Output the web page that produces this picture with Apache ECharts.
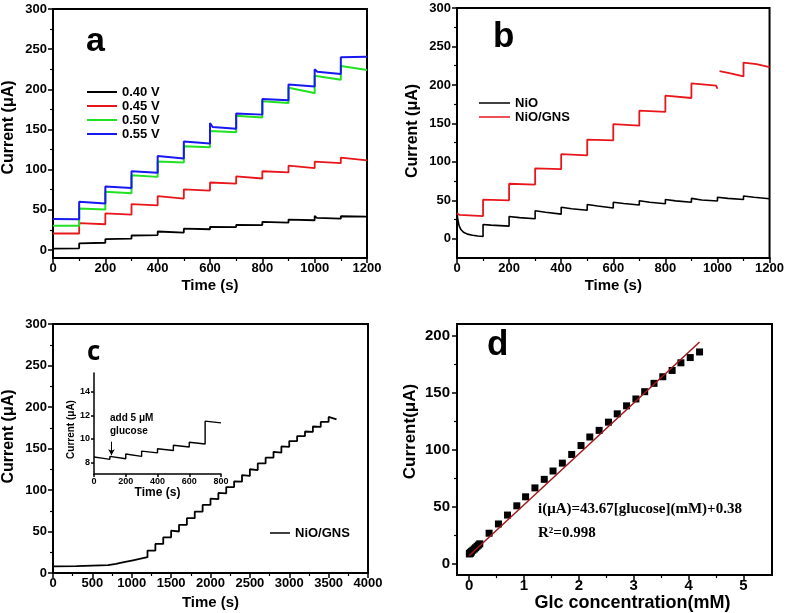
<!DOCTYPE html>
<html><head><meta charset="utf-8">
<script src="https://cdn.jsdelivr.net/npm/echarts@6/dist/echarts.min.js"></script>
<style>html,body{margin:0;padding:0;background:#fff}#c{width:787px;height:613px}</style>
</head><body><div id="c"></div>
<script>
// ---------- Panel a: current vs time at different potentials ----------
const a040 = [[0,1.7],[100,2],[100,8.3],[200,9],[200,13.5],[300,14],[300,18],[400,18.5],[400,23],[404,23.5],[500,21.7],[500,26.5],[600,25.8],[600,28.8],[700,28.5],[700,31.2],[800,31],[800,35],[900,34],[900,37.8],[1000,37],[1000,42.5],[1008,40],[1100,39],[1100,42],[1200,41.5]];
const a045 = [[0,20.5],[100,20.5],[100,33.5],[200,32],[200,45.5],[300,44],[300,57],[400,55.5],[400,67],[405,65.5],[500,64],[500,75.5],[600,74],[600,84],[700,82.5],[700,91.5],[800,89],[800,98],[900,96.5],[900,105],[1000,102],[1000,110],[1100,108],[1100,115],[1200,111.5]];
const a050 = [[0,30],[100,30],[100,51.5],[200,50.5],[200,72.5],[300,70.5],[300,93],[400,91],[400,110],[500,109],[500,129],[600,128],[600,148],[700,146.5],[700,167],[800,165],[800,185],[900,183],[900,202],[990,196],[1000,195],[1000,217],[1100,212],[1100,229],[1200,224]];
const a055 = [[0,38.5],[100,38.3],[100,60],[200,58],[200,79],[300,77],[300,98],[400,96],[400,117],[500,114],[500,135],[600,132.5],[600,158],[610,153],[700,151],[700,170],[800,168.5],[800,188],[900,186.5],[900,206],[1000,203.5],[1000,225],[1010,222],[1100,219],[1100,240],[1200,240.5]];
const aNames = ['0.40 V','0.45 V','0.50 V','0.55 V'];
const aYTicks = [0,50,100,150,200,250,300];
const aYMinor = [25,75,125,175,225,275];
const aXTicks = [0,200,400,600,800,1000,1200];
const aXMinor = [100,300,500,700,900,1100];

// ---------- Panel b: NiO vs NiO/GNS ----------
const bNiO = [[0,33],[3,25],[8,17],[15,12],[25,8.5],[40,6],[60,4.5],[80,3.5],[100,3],[100,18.5],[130,17.8],[200,16.5],[200,29],[240,27.5],[300,26],[300,36.5],[340,34.5],[400,32],[400,41],[440,39],[500,37],[500,44.5],[540,42.5],[600,40],[600,47.5],[640,45.8],[700,44],[700,49.5],[740,47.5],[800,45.5],[800,51],[840,49.3],[900,47.5],[900,52.5],[940,50.5],[1000,49],[1000,54],[1040,52.5],[1100,51],[1100,55.5],[1140,54],[1200,52]];
const bGNS = [[0,33],[10,31],[100,29.5],[100,50.8],[200,50],[200,71.5],[300,70.5],[300,91.5],[400,90.5],[400,110],[500,108.5],[500,129],[600,128],[600,149],[700,147],[700,166.5],[800,165],[800,186],[900,183],[900,202],[995,199],[1000,195],[1004,null],[1008,218],[1050,215],[1100,211],[1100,229],[1150,227],[1200,223]];
const bNames = ['NiO','NiO/GNS'];

// ---------- Panel c: long amperometric response + inset ----------
const cMain = [[0,8],[300,8.4],[700,9.5],[700,11],[800,11],[800,13],[900,13],[900,15],[1000,15],[1000,17],[1100,17],[1100,18.5],[1200,19],[1200,27],[1300,27],[1300,35],[1400,35],[1400,43],[1500,43],[1500,51],[1600,50],[1600,58],[1700,58],[1700,66],[1800,66],[1800,74],[1900,74],[1900,82],[2000,82],[2000,89.5],[2100,89],[2100,96.5],[2200,96],[2200,103.5],[2300,103.5],[2300,110.5],[2400,110],[2400,118],[2500,117],[2500,125],[2600,124],[2600,132],[2700,132],[2700,139],[2800,139],[2800,146],[2900,145],[2900,152.5],[3000,152],[3000,159],[3100,159],[3100,165],[3200,165],[3200,170.5],[3300,170],[3300,176.5],[3400,176],[3400,182],[3500,182],[3500,188],[3520,186],[3600,185]];
const cInset = [[0,8.45],[50,8.35],[100,8.25],[100,8.5],[200,8.3],[200,8.7],[300,8.5],[300,8.95],[400,8.8],[400,9.15],[500,9.0],[500,9.45],[600,9.3],[600,9.7],[700,9.55],[700,11.5],[800,11.35]];
const cYTicks = [0,50,100,150,200,250,300];
const cYMinor = [25,75,125,175,225,275];
const cXTicks = [0,500,1000,1500,2000,2500,3000,3500,4000];
const cXMinor = [250,750,1250,1750,2250,2750,3250,3750];
const insetXTicks = [0,200,400,600,800];
const insetYTicks = [8,10,12,14];
const arrowAt = [[110,9.75],[110,8.6]];

// ---------- Panel d: calibration ----------
const dConc = [0.005,0.01,0.015,0.02,0.025,0.03,0.035,0.045,0.07,0.095,0.12,0.145,0.17,0.195,0.365,0.535,0.70,0.87,1.03,1.20,1.37,1.53,1.70,1.87,2.04,2.20,2.37,2.54,2.70,2.87,3.04,3.20,3.37,3.53,3.70,3.86,4.03,4.20];
const dCurr = [8.6,8.8,9.0,9.2,9.5,9.8,10.0,10.8,11.8,12.9,14.0,15.2,16.3,17.4,26.7,34.8,42.6,50.7,58.6,66.4,73.9,81.2,88.1,95.7,103.5,111,116.8,124,131.3,138.3,144.3,150.7,158,163.8,169.3,176,180.6,185.5];
const dFitX = [0.0, 4.2];
const dFitY = [7.0, 194.2];
const dYTicks = [0,50,100,150,200];
const dYMinor = [25,75,125,175];
const dXTicks = [0,1,2,3,4,5];
const dXMinor = [0.5,1.5,2.5,3.5,4.5];

const FONT = '"Liberation Sans", Arial, sans-serif';
const K = '#000';
const RED = '#e8161b', GREEN = '#22e022', BLUE = '#1818f0';

function axisPair(dim, gridIndex, min, max, ticks, minors, o) {
  const pos = dim === 'x' ? 'bottom' : 'left';
  const main = {
    type: 'value', gridIndex, min, max, position: pos,
    axisLine: {show: true, onZero: false, lineStyle: {color: K, width: o.lw || 2}},
    axisTick: {show: true, inside: false, length: o.tl || 5, customValues: ticks, lineStyle: {color: K, width: 1.5}},
    axisLabel: {show: true, customValues: ticks, margin: o.margin, color: K, fontSize: o.fs, fontWeight: 700, fontFamily: FONT,
      formatter: v => String(v)},
    splitLine: {show: false},
    name: o.name, nameLocation: 'middle', nameGap: o.gap,
    nameTextStyle: {color: K, fontSize: o.nfs, fontWeight: 'bold', fontFamily: FONT, padding: o.npad || 0}
  };
  const arr = [main];
  if (minors) {
    arr.push({
      type: 'value', gridIndex, min, max, position: pos,
      axisLine: {show: false, onZero: false},
      axisTick: {show: true, inside: false, length: 3, customValues: minors, lineStyle: {color: K, width: 1.2}},
      axisLabel: {show: false}, splitLine: {show: false}
    });
  }
  return arr;
}

const xAxes = [].concat(
  axisPair('x', 0, 0, 1200, aXTicks, aXMinor, {margin: 4, fs: 13, name: 'Time (s)', gap: 20, nfs: 15}),
  axisPair('x', 1, 0, 1200, aXTicks, aXMinor, {margin: 4, fs: 13, name: 'Time (s)', gap: 20, nfs: 15}),
  axisPair('x', 2, 0, 4000, cXTicks, cXMinor, {margin: 4, fs: 13, name: 'Time (s)', gap: 22, nfs: 15}),
  axisPair('x', 3, 0, 800, insetXTicks, null, {margin: 3, fs: 9, tl: 3, lw: 1.5, name: 'Time (s)', gap: 13, nfs: 12}),
  axisPair('x', 4, -0.22, 5.52, dXTicks, dXMinor, {margin: 3, fs: 15, name: 'Glc concentration(mM)', gap: 15, nfs: 18, npad: [0,0,0,36]})
);
const yAxes = [].concat(
  axisPair('y', 0, -10, 300, aYTicks, aYMinor, {margin: 6, fs: 13, name: 'Current (\u03bcA)', gap: 36, nfs: 16, npad: [0,0,0,12]}),
  axisPair('y', 1, -25, 300, aYTicks, aYMinor, {margin: 6, fs: 13, name: 'Current (\u03bcA)', gap: 36, nfs: 16, npad: [0,0,0,4]}),
  axisPair('y', 2, 0, 300, cYTicks, cYMinor, {margin: 6, fs: 13, name: 'Current (\u03bcA)', gap: 36, nfs: 16, npad: [0,0,0,24]}),
  axisPair('y', 3, 7, 15.6, insetYTicks, null, {margin: 4, fs: 9, tl: 3, lw: 1.5, name: 'Current (\u03bcA)', gap: 17, nfs: 10, npad: [0,12,0,0]}),
  axisPair('y', 4, -10, 210, dYTicks, dYMinor, {margin: 7, fs: 15, name: 'Current(\u03bcA)', gap: 38, nfs: 17, npad: [0,0,0,36]})
);
// main axis indices: a 0, b 2, c 4, inset 6, d 7

function line(name, data, color, xi, yi, w) {
  return {type: 'line', name, data, xAxisIndex: xi, yAxisIndex: yi, showSymbol: false, symbol: 'none',
    connectNulls: false, lineStyle: {color, width: w}, itemStyle: {color}, animation: false, silent: true};
}

const series = [
  line(aNames[0], a040, K, 0, 0, 1.8),
  line(aNames[1], a045, RED, 0, 0, 1.8),
  line(aNames[2], a050, GREEN, 0, 0, 2),
  line(aNames[3], a055, BLUE, 0, 0, 2),
  line(bNames[0], bNiO, K, 2, 2, 1.6),
  line(bNames[1], bGNS, RED, 2, 2, 1.8),
  line('NiO/GNS', cMain, K, 4, 4, 1.8),
  Object.assign(line('inset', cInset, K, 6, 6, 1.4), {
    markLine: {silent: true, symbol: ['none', 'arrow'], symbolSize: [5, 6], label: {show: false},
      lineStyle: {color: K, width: 1, type: 'solid'},
      data: [[{coord: arrowAt[0]}, {coord: arrowAt[1]}]]}
  }),
  {type: 'scatter', name: 'data', xAxisIndex: 7, yAxisIndex: 7, symbol: 'rect', symbolSize: 7,
    itemStyle: {color: K, opacity: 1}, data: dConc.map((c, i) => [c, dCurr[i]]), animation: false, silent: true},
  line('fit', dFitX.map((x, i) => [x, dFitY[i]]), '#a3161a', 7, 7, 1.5)
];

const legText = {color: K, fontSize: 13, fontWeight: 'bold', fontFamily: FONT, lineHeight: 14};
const option = {
  animation: false,
  backgroundColor: '#fff',
  grid: [
    {left: 52, top: 9, width: 315, height: 249, show: true, borderColor: K, borderWidth: 2, backgroundColor: 'transparent'},
    {left: 457, top: 8, width: 316, height: 250, show: true, borderColor: K, borderWidth: 2, backgroundColor: 'transparent'},
    {left: 52, top: 324, width: 316, height: 249, show: true, borderColor: K, borderWidth: 2, backgroundColor: 'transparent'},
    {left: 94, top: 373, width: 127, height: 101, show: false},
    {left: 457, top: 324, width: 315, height: 253, show: true, borderColor: K, borderWidth: 2, backgroundColor: 'transparent'}
  ],
  xAxis: xAxes,
  yAxis: yAxes,
  legend: [
    {data: aNames, orient: 'vertical', left: 82, top: 80, itemWidth: 30, itemHeight: 2, itemGap: 0, icon: 'rect', textStyle: legText, selectedMode: false},
    {data: bNames, orient: 'vertical', left: 474, top: 91, itemWidth: 31, itemHeight: 1.5, itemGap: 0, icon: 'rect', textStyle: legText, selectedMode: false},
    {data: [{name: 'NiO/GNS', itemStyle: {color: K}}], orient: 'vertical', left: 265, top: 521, itemWidth: 20, itemHeight: 1.5, icon: 'rect', textStyle: legText, selectedMode: false}
  ],
  graphic: [
    {type: 'text', left: 86, top: 25, style: {text: 'a', font: 'bold 34px "Liberation Sans", Arial, sans-serif', fill: K}},
    {type: 'text', left: 493, top: 20, style: {text: 'b', font: 'bold 35px "Liberation Sans", Arial, sans-serif', fill: K}},
    {type: 'text', left: 87, top: 340, style: {text: 'c', font: 'bold 26px "Open Sans", sans-serif', fill: K}},
    {type: 'text', left: 487, top: 328, style: {text: 'd', font: 'bold 35px "Liberation Sans", Arial, sans-serif', fill: K}},
    {type: 'text', left: 110, top: 413, style: {text: 'add 5 \u03bcM', font: 'bold 10px "Liberation Sans", Arial, sans-serif', fill: K}},
    {type: 'text', left: 110, top: 426, style: {text: 'glucose', font: 'bold 10px "Liberation Sans", Arial, sans-serif', fill: K}},
    {type: 'text', left: 538, top: 502, style: {text: 'i(\u03bcA)=43.67[glucose](mM)+0.38', font: 'bold 15px "Liberation Serif", "Times New Roman", serif', fill: K}},
    {type: 'text', left: 538, top: 526, style: {text: 'R\u00b2=0.998', font: 'bold 15px "Liberation Serif", "Times New Roman", serif', fill: K}}
  ],
  series
};
const chart = echarts.init(document.getElementById('c'), null, {renderer: 'canvas'});
chart.setOption(option);
</script>
</body></html>
